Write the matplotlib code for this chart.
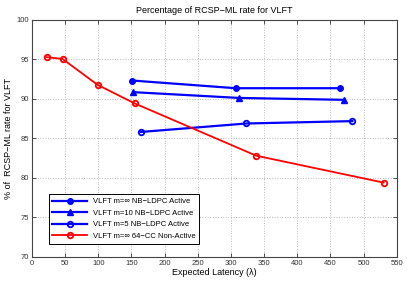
import matplotlib
matplotlib.use("Agg")
import matplotlib.pyplot as plt

# values
inf_ldpc_x = [151, 307, 464]
inf_ldpc_y = [92.3, 91.33, 91.33]
m10_x = [153, 312, 471]
m10_y = [90.83, 90.1, 89.86]
m5_x = [164, 323, 483]
m5_y = [85.8, 86.87, 87.17]
cc_x = [22, 46, 99, 155, 338, 530]
cc_y = [95.25, 95.03, 91.75, 89.4, 82.8, 79.4]

labels = ["VLFT m=\u221e NB\u2212LDPC Active",
          "VLFT m=10 NB\u2212LDPC Active",
          "VLFT m=5 NB\u2212LDPC Active",
          "VLFT m=\u221e 64\u2212CC Non-Active"]

plt.rcParams['font.family'] = ['Liberation Sans', 'DejaVu Sans']

fig = plt.figure(figsize=(4.07, 2.82), dpi=100)
ax = fig.add_axes([0.0786, 0.0887, 0.8964, 0.8418])

ax.plot(inf_ldpc_x, inf_ldpc_y, color='blue', lw=1.6, marker='o', ms=4,
        mfc='blue', mec='blue', label=labels[0])
ax.plot(m10_x, m10_y, color='blue', lw=1.6, marker='^', ms=4.5,
        mfc='blue', mec='blue', label=labels[1])
ax.plot(m5_x, m5_y, color='blue', lw=1.6, marker='o', ms=4,
        mfc='none', mec='blue', mew=1.3, label=labels[2])
ax.plot(cc_x, cc_y, color='red', lw=1.3, marker='o', ms=4,
        mfc='none', mec='red', mew=1.3, label=labels[3])

ax.set_xlim(0, 550)
ax.set_ylim(70, 100)
ax.set_xticks(range(0, 551, 50))
ax.set_yticks(range(70, 101, 5))
ax.tick_params(direction='in', labelsize=5.5, length=3, width=0.6,
               colors='#333333', top=True, right=True, pad=2)
ax.grid(True, linestyle=':', color='#bbbbbb', linewidth=0.7)
for s in ax.spines.values():
    s.set_color('#444444')
    s.set_linewidth(0.8)

ax.set_title("Percentage of RCSP\u2212ML rate for VLFT", fontsize=6.5, pad=5)
ax.set_xlabel("Expected Latency (\u03bb)", fontsize=6.5, labelpad=1)
ax.set_ylabel("% of  RCSP\u2212ML rate for VLFT", fontsize=6.5, labelpad=3)

leg = ax.legend(loc='lower left', bbox_to_anchor=(0.035, 0.04), fontsize=5.5,
                handlelength=4.5, borderpad=0.5, labelspacing=0.55,
                fancybox=False, edgecolor='black', framealpha=1)
leg.get_frame().set_linewidth(0.7)

fig.savefig("out.png", dpi=100)
